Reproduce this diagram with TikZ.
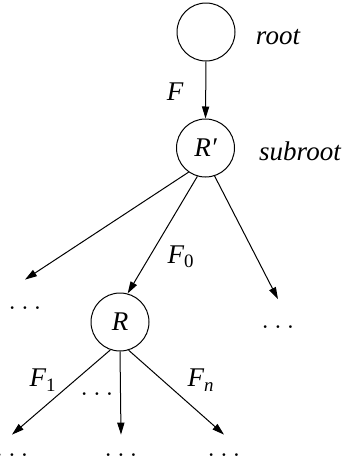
\documentclass[tikz,border=0pt]{standalone}
\usepackage{fontspec}
\setmainfont{Liberation Serif}
\usetikzlibrary{arrows.meta}

\begin{document}
\begin{tikzpicture}[
  x=0.5pt, y=-0.5pt,
  >={Triangle[length=6pt,width=3.6pt]},
  vertex/.style={draw, circle, minimum size=29pt, inner sep=0pt,
              line width=0.5pt, font=\fontsize{13.5}{16}\selectfont\itshape},
  dots/.style={inner xsep=0pt, inner ysep=#1, font=\fontsize{13.5}{16}\selectfont},
  arr/.style={->, line width=0.5pt},
  lbl/.style={font=\fontsize{13.5}{16}\selectfont\itshape},
]
\useasboundingbox (0,0) rectangle (344,461);

% === Nodes ===
\node[vertex] (root) at (206,32) {};
\node[lbl] (rootlbl) at (278,37) {root};

\node[vertex] (sub) at (205.5,148) {R′};
\node[lbl] (sublbl) at (300,151) {subroot};

\node[vertex] (R) at (120,322) {R};

\node[dots=13.3pt] (l1) at (25,308) {$\ldots$};
\node[dots=13pt] (r1) at (278,327) {$\ldots$};

\node[dots=9.3pt] (b1) at (12,455) {$\ldots$};
\node[dots=9.3pt] (b2) at (121,455) {$\ldots$};
\node[dots=9.3pt] (b3) at (224,455) {$\ldots$};

% Labels
\node[lbl] (f) at (175,92) {F};
\node[lbl] (f0) at (181,257) {F\textsubscript{\upshape 0}};
\node[lbl] (f1) at (43,380) {F\textsubscript{\upshape 1}};
\node[lbl] (fn) at (201,380) {F\textsubscript{n}};
\node[dots=0pt] (mid) at (97,394) {$\ldots$};

% Arrows
\draw[arr] (root.south) -- (sub.north);
\draw[arr] (sub.235) -- (l1.north);
\draw[arr] (sub.254) -- (R.75);
\draw[arr] (sub.288) -- (r1.north);
\draw[arr] (R.251) -- (b1.north);
\draw[arr] (R.south) -- (b2.north);
\draw[arr] (R.287) -- (b3.north);

\end{tikzpicture}
\end{document}
